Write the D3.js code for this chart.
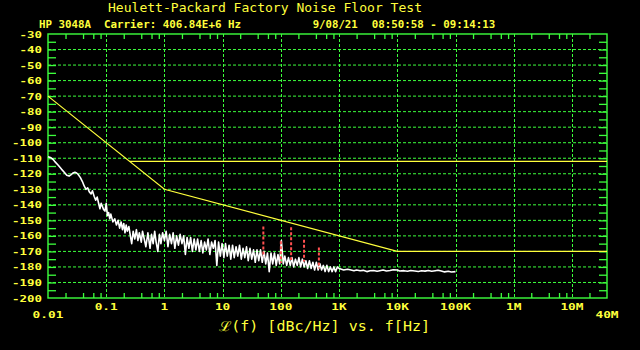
<!DOCTYPE html>
<html><head><meta charset="utf-8">
<script src="https://cdn.jsdelivr.net/npm/d3@7"></script>
<style>
html,body{margin:0;padding:0;background:#000;}
svg{display:block;}
</style></head>
<body>
<svg id="c" width="640" height="350"></svg>
<script>
// ---------- data ----------
const titleText = "Heulett-Packard Factory Noise Floor Test";
const headerLeft = ["HP 3048A", "Carrier: 406.84E+6 Hz"];
const headerRight = ["9/08/21", "08:50:58 - 09:14:13"];
const axisTitle = "\u2112(f) [dBc/Hz] vs. f[Hz]";

const yTickValues = [-30,-40,-50,-60,-70,-80,-90,-100,-110,-120,-130,-140,-150,-160,-170,-180,-190,-200];
const xTickValues = [0.01,0.1,1,10,100,1e3,1e4,1e5,1e6,1e7,4e7];
const xTickLabels = ["0.01","0.1","1","10","100","1K","10K","100K","1M","10M","40M"];

// spec limit lines (yellow)
const limitFreq = [0.01, 1, 1e4, 4e7];
const limitDb   = [-70, -130, -170, -170];
const limit2Freq = [0.251, 4e7];
const limit2Db   = [-112, -112];

// measured noise trace (white)
const traceFreq = [
 0.010,0.011,0.012,0.013,0.015,0.017,0.019,0.021,0.023,0.025,0.027,0.029,0.031,0.033,0.036,0.039,0.042,0.045,0.048,0.051,
 0.055,0.058,0.062,0.066,0.070,0.074,0.078,0.082,0.086,0.090,0.095,0.100,0.105,0.110,0.115,0.120,0.130,0.140,0.150,0.160,
 0.170,0.180,0.190,0.200,0.210,0.220,0.230,0.245,0.260,0.274,0.290,0.310,0.330,0.350,0.370,0.400,0.420,0.450,0.480,0.520,
 0.566,0.600,0.640,0.680,0.720,0.770,0.820,0.870,0.930,
 1.00,1.07,1.15,1.23,1.32,1.41,1.51,1.62,1.74,1.86,2.00,2.14,2.29,2.45,2.63,2.82,3.02,3.24,3.47,3.72,
 3.98,4.27,4.57,4.90,5.25,5.62,6.03,6.46,6.92,7.41,7.94,8.51,9.12,9.77,10.5,11.2,12.0,12.9,13.8,14.8,
 15.8,17.0,18.2,19.5,20.9,22.4,24.0,25.7,27.5,29.5,31.6,33.9,36.3,38.9,41.7,44.7,47.9,51.3,55.0,58.9,
 63.1,67.6,72.4,77.6,83.2,89.1,95.5,102,110,117,126,135,145,155,166,178,191,204,219,234,
 251,269,288,309,331,355,380,407,437,468,501,537,575,617,661,708,759,813,871,933,
 1000,1100,1200,1400,1600,1800,2000,2300,2600,3000,3400,3900,4500,5000,5700,6500,7500,8500,10000,11000,
 13000,15000,17000,20000,23000,26000,30000,34000,39000,45000,50000,57000,65000,75000,85000,100000
];
const traceDb = [
 -109,-109.5,-110.5,-112,-114.5,-117,-119,-121,-121.5,-120.5,-119.5,-119,-119.5,-120.5,-122.5,-125,-128,-130,-129,-131.5,
 -133,-131,-134.5,-137,-135,-139,-142.5,-139,-141,-143,-144,-139,-147,-145,-149,-146,-151,-149,-153,-150,
 -155,-151,-156,-152,-158,-153,-157,-154,-160,-165,-157,-162,-156,-163,-158,-164,-157,-162,-167,-158,
 -168,-159,-165,-157,-164,-170,-159,-165,-158,
 -163,-157,-167,-159,-165,-158,-168,-160,-166,-159,-165,-160,-172,-161,-168,-161,-170,-162,-169,-162,
 -170,-163,-171,-164,-169,-162,-172,-164,-168,-163,-179,-164,-173,-165,-174,-165,-173,-166,-175,-166,
 -174,-167,-173,-166,-175,-168,-174,-167,-176,-168,-175,-169,-177,-169,-176,-169,-177,-170,-178,-171,
 -183,-171,-178,-171,-179,-172,-178,-163,-178,-173,-179,-174,-179,-174,-180,-175,-179,-174,-180,-175,
 -180,-176,-181,-176,-181,-177,-182,-177,-182,-178,-182,-179,-183,-179,-183,-180,-183,-180,-183,-180,
 -181,-181.5,-182,-181.5,-182,-182.5,-182,-182.5,-182.2,-183,-182.5,-182.3,-182.8,-182.4,-182,-182.6,-182.3,-181.8,-182,-182.6,
 -182.4,-182.8,-182.3,-182.6,-182.9,-182.5,-182.7,-182.3,-182.8,-182.4,-182.1,-182.6,-183.2,-182.8,-183.3,-183
];

// discrete spurs (red dashed)
const spurFreq = [50, 100, 150, 250, 450];
const spurPeak = [-154, -163.5, -154.5, -162.5, -167.5];
const spurBase = [-173.5, -177.5, -175.5, -176.5, -181];

// ---------- drawing ----------
const GREEN = "#3cff3c", YELLOW = "#ffff3c", WHITE = "#ffffff", RED = "#ff5050";
const FONT = "'DejaVu Sans Mono', monospace";
const L = 48, R = 607, T = 34, B = 298;

const svg = d3.select("#c");
svg.append("rect").attr("width",640).attr("height",350).attr("fill","#000");

const x = d3.scaleLog().domain([0.01, 4e7]).range([L, R]);
const y = d3.scaleLinear().domain([-200, -30]).range([B, T]);

// gridlines
const g = svg.append("g");
g.selectAll(".hg").data(yTickValues.filter(v => v > -200 && v < -30)).join("line")
  .attr("x1", L).attr("x2", R).attr("y1", d => y(d)).attr("y2", d => y(d))
  .attr("stroke", GREEN).attr("stroke-width", 1).attr("stroke-dasharray", "3,2");
g.selectAll(".vg").data(xTickValues.filter(v => v > 0.01 && v < 4e7)).join("line")
  .attr("x1", d => Math.round(x(d)) + 0.5).attr("x2", d => Math.round(x(d)) + 0.5)
  .attr("y1", T).attr("y2", B)
  .attr("stroke", GREEN).attr("stroke-width", 1).attr("stroke-dasharray", "3,2");

// minor ticks
const minorX = [];
for (let dec = 0.01; dec < 4e7; dec *= 10) {
  [2,4,6,8].forEach(m => { const v = +(m * dec).toPrecision(3); if (v < 4e7) minorX.push(v); });
}
const minorY = d3.range(-195, -30, 5);

function styleAxis(sel) {
  sel.select(".domain").remove();
  sel.selectAll("text").remove();
  sel.selectAll("line").attr("stroke", GREEN).attr("stroke-width", 1.3);
}
svg.append("g").attr("transform", `translate(0,${B})`)
  .call(d3.axisBottom(x).tickValues(minorX).tickSize(-5)).call(styleAxis);
svg.append("g").attr("transform", `translate(0,${T})`)
  .call(d3.axisTop(x).tickValues(minorX).tickSize(-5)).call(styleAxis);
svg.append("g").attr("transform", `translate(${L},0)`)
  .call(d3.axisLeft(y).tickValues(minorY).tickSize(-8)).call(styleAxis);
svg.append("g").attr("transform", `translate(${R},0)`)
  .call(d3.axisRight(y).tickValues(minorY).tickSize(-8)).call(styleAxis);

// frame
svg.append("rect").attr("x", L).attr("y", T).attr("width", R - L).attr("height", B - T)
  .attr("fill", "none").attr("stroke", GREEN).attr("stroke-width", 1.4);

// limit lines
const line = d3.line().x(d => x(d[0])).y(d => y(d[1]));
svg.append("path").datum(limitFreq.map((f,i) => [f, limitDb[i]]))
  .attr("d", line).attr("fill","none").attr("stroke", YELLOW).attr("stroke-width", 1.2);
svg.append("path").datum(limit2Freq.map((f,i) => [f, limit2Db[i]]))
  .attr("d", line).attr("fill","none").attr("stroke", YELLOW).attr("stroke-width", 1.2);

// trace
svg.append("path").datum(traceFreq.map((f,i) => [f, traceDb[i]]))
  .attr("d", line).attr("fill","none").attr("stroke", WHITE).attr("stroke-width", 1.6)
  .attr("stroke-linejoin","round");

// spurs
svg.selectAll(".spur").data(spurFreq).join("line")
  .attr("x1", d => x(d)).attr("x2", d => x(d))
  .attr("y1", (d,i) => y(spurPeak[i])).attr("y2", (d,i) => y(spurBase[i]))
  .attr("stroke", RED).attr("stroke-width", 2).attr("stroke-dasharray", "3,2");

// y labels
svg.selectAll(".yl").data(yTickValues).join("text")
  .attr("x", 42).attr("y", d => y(d) + 3.5)
  .attr("text-anchor", "end").attr("fill", YELLOW)
  .attr("font-family", FONT).attr("font-weight", "bold").attr("font-size", 9.5)
  .attr("textLength", d => String(d).length * 7.5).attr("lengthAdjust", "spacingAndGlyphs")
  .text(d => String(d));

// x labels
svg.selectAll(".xl").data(xTickValues).join("text")
  .attr("x", d => x(d)).attr("y", (d,i) => (i === 0 || i === xTickValues.length - 1) ? 318 : 310)
  .attr("text-anchor", "middle").attr("fill", YELLOW)
  .attr("font-family", FONT).attr("font-weight", "bold").attr("font-size", 9.5)
  .attr("textLength", (d,i) => xTickLabels[i].length * 7.7).attr("lengthAdjust", "spacingAndGlyphs")
  .text((d,i) => xTickLabels[i]);

// title
svg.append("text").attr("x", 108).attr("y", 12)
  .attr("fill", YELLOW).attr("font-family", FONT).attr("font-size", 12.5)
  .attr("textLength", 314).attr("lengthAdjust", "spacingAndGlyphs")
  .text(titleText);

// header
function hdr(txt, x0, w) {
  svg.append("text").attr("x", x0).attr("y", 28)
    .attr("fill", YELLOW).attr("font-family", FONT).attr("font-weight", "bold").attr("font-size", 10)
    .attr("textLength", w).attr("lengthAdjust", "spacingAndGlyphs").text(txt);
}
hdr(headerLeft[0], 39, 52);
hdr(headerLeft[1], 104, 137);
hdr(headerRight[0], 312.7, 45);
hdr(headerRight[1], 371.7, 123.5);

// axis title
svg.append("text").attr("x", 219).attr("y", 331)
  .attr("fill", YELLOW).attr("font-family", FONT).attr("font-size", 13.5)
  .attr("textLength", 211).attr("lengthAdjust", "spacingAndGlyphs")
  .text(axisTitle);
</script>
</body></html>
